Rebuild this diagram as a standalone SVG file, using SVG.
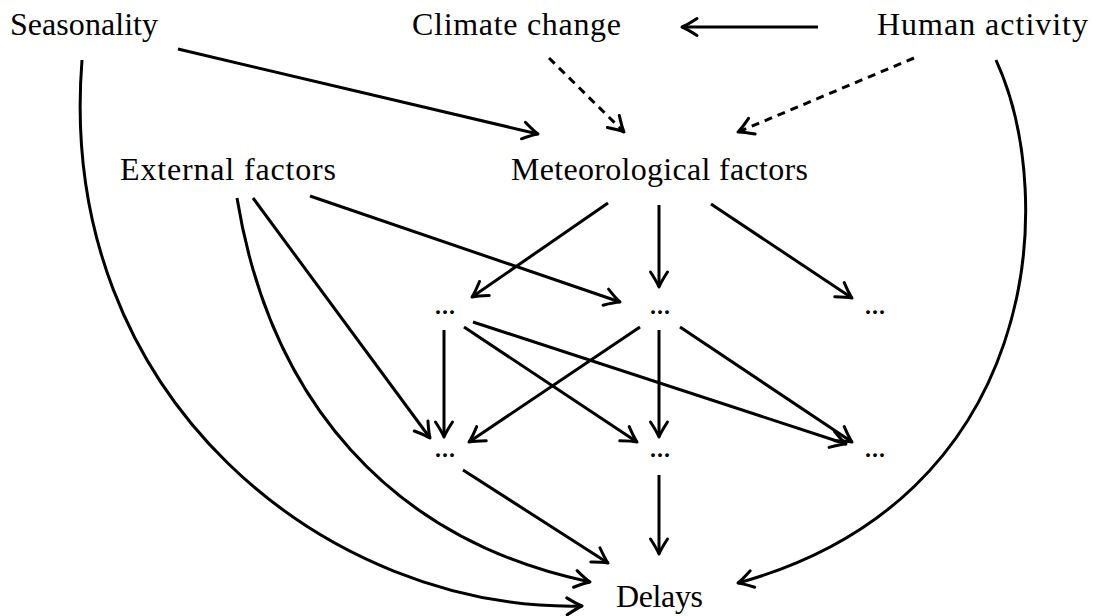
<svg xmlns="http://www.w3.org/2000/svg" width="1096" height="616" viewBox="0 0 1096 616">
<style>
text{font-family:"Liberation Serif","DejaVu Serif",serif;font-size:32px;fill:#000}
.e{fill:none;stroke:#000;stroke-width:3;marker-end:url(#ah)}
.d{stroke-dasharray:8 6}
</style>
<defs>
<marker id="ah" markerUnits="userSpaceOnUse" markerWidth="30" markerHeight="30" refX="0" refY="0" viewBox="-20 -15 30 30" orient="auto" overflow="visible">
<path d="M-15,-8.5 Q-5,-2 0,0 Q-5,2 -15,8.5" fill="none" stroke="#000" stroke-width="3" stroke-linecap="round" stroke-linejoin="round"/>
</marker>
</defs>
<rect width="1096" height="616" fill="#fff"/>
<g id="connectors">
<path class="e" d="M818,27 L682,27"/>
<path class="e d" d="M549,58 L624,132"/>
<path class="e d" d="M914,58 L738,132"/>
<path class="e" d="M178,49 L538,134"/>
<path class="e" d="M82,60 C55,400 330,612 582,606"/>
<path class="e" d="M237,198 C270,400 390,540 590,582"/>
<path class="e" d="M253,198 L430,438"/>
<path class="e" d="M310,196 L620,302"/>
<path class="e" d="M996,60 C1060,200 1040,500 738,583"/>
<path class="e" d="M608,203 L472,297"/>
<path class="e" d="M659,205 L659,287"/>
<path class="e" d="M711,204 L852,298"/>
<path class="e" d="M444,330 L444,437"/>
<path class="e" d="M464,327 L637,442"/>
<path class="e" d="M473,322 L846,444"/>
<path class="e" d="M640,327 L469,442"/>
<path class="e" d="M659,330 L659,437"/>
<path class="e" d="M680,327 L852,442"/>
<path class="e" d="M463,470 L608,563"/>
<path class="e" d="M659,475 L659,554"/>
</g>
<g id="seasonality"><text x="10" y="35" textLength="148">Seasonality</text></g>
<g id="climate"><text x="412" y="35" textLength="209">Climate change</text></g>
<g id="human"><text x="877" y="35" textLength="211">Human activity</text></g>
<g id="external"><text x="120" y="180" textLength="216">External factors</text></g>
<g id="meteo"><text x="511" y="180" textLength="297">Meteorological factors</text></g>
<g id="n11"><text x="434" y="314" textLength="22">...</text></g>
<g id="n12"><text x="649" y="314" textLength="22">...</text></g>
<g id="n13"><text x="864" y="314" textLength="22">...</text></g>
<g id="n21"><text x="434" y="457" textLength="22">...</text></g>
<g id="n22"><text x="649" y="457" textLength="22">...</text></g>
<g id="n23"><text x="864" y="457" textLength="22">...</text></g>
<g id="delays"><text x="616" y="607" textLength="87">Delays</text></g>
</svg>
